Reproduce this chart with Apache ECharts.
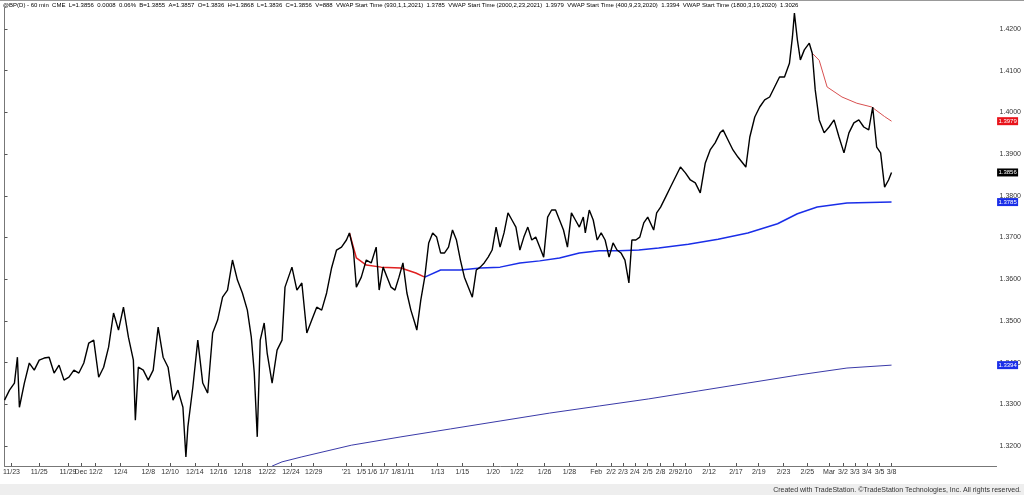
<!DOCTYPE html>
<html><head><meta charset="utf-8">
<script src="https://cdn.jsdelivr.net/npm/echarts@6/dist/echarts.min.js"></script>
<style>html,body{margin:0;padding:0;background:#fff}#c{width:1024px;height:495px}</style>
</head><body><div id="c"></div>
<script>
// slot = hourly session position along the time axis
var priceSlots = [0,5,10,13,15,20,25,30,35,40,45,50,55,60,65,70,75,80,85,90,95,100,105,110,115,120,125,130,132,135,140,145,150,155,160,165,170,175,180,183,185,190,195,200,205,210,215,220,225,230,235,240,245,249,252,255,258,262,265,270,275,280,283,290,295,300,305,310,315,320,325,330,335,340,345,348,352,355,360,365,370,375,378,382,386,390,394,398,402,406,410,414,416,420,424,428,432,436,440,444,448,452,456,460,464,468,472,476,480,484,488,492,496,500,504,508,512,516,520,524,528,532,536,540,544,548,552,556,560,564,568,572,576,580,584,586,590,594,598,602,606,610,614,618,622,626,630,633,637,641,645,649,655,658,662,667,672,677,682,687,692,697,702,707,712,717,722,725,730,735,740,745,748,752,757,762,767,772,777,782,787,792,795,797,800,803,807,812,815,818,822,827,832,837,842,847,852,857,862,867,872,876,880,884,888,892,895];
var priceVals = [1.3310,1.3334,1.3351,1.3413,1.3293,1.3351,1.3399,1.3382,1.3406,1.3411,1.3413,1.3375,1.3394,1.3358,1.3365,1.3382,1.3375,1.3399,1.3447,1.3454,1.3365,1.3389,1.3437,1.3519,1.3478,1.3533,1.3461,1.3406,1.3262,1.3389,1.3382,1.3358,1.3382,1.3485,1.3413,1.3389,1.3310,1.3334,1.3293,1.3174,1.3246,1.3341,1.3454,1.3351,1.3327,1.3471,1.3502,1.3557,1.3574,1.3646,1.3598,1.3567,1.3526,1.3461,1.3375,1.3222,1.3454,1.3495,1.3423,1.3351,1.3430,1.3454,1.3581,1.3629,1.3574,1.3591,1.3471,1.3502,1.3533,1.3526,1.3567,1.3627,1.3670,1.3677,1.3694,1.3711,1.3670,1.3581,1.3605,1.3646,1.3639,1.3677,1.3574,1.3629,1.3605,1.3581,1.3574,1.3605,1.3639,1.3567,1.3526,1.3495,1.3478,1.3550,1.3605,1.3687,1.3711,1.3701,1.3663,1.3663,1.3677,1.3718,1.3694,1.3646,1.3605,1.3581,1.3557,1.3622,1.3629,1.3639,1.3653,1.3670,1.3725,1.3677,1.3711,1.3759,1.3742,1.3725,1.3670,1.3701,1.3725,1.3694,1.3701,1.3677,1.3653,1.3749,1.3766,1.3766,1.3742,1.3718,1.3677,1.3759,1.3742,1.3725,1.3749,1.3711,1.3766,1.3742,1.3694,1.3711,1.3694,1.3653,1.3687,1.3670,1.3663,1.3646,1.3591,1.3694,1.3694,1.3701,1.3735,1.3749,1.3718,1.3759,1.3773,1.3797,1.3821,1.3845,1.3869,1.3855,1.3838,1.3831,1.3807,1.3878,1.3910,1.3927,1.3951,1.3958,1.3934,1.3910,1.3893,1.3878,1.3869,1.3941,1.3989,1.4013,1.4030,1.4037,1.4061,1.4085,1.4085,1.4118,1.4181,1.4238,1.4174,1.4126,1.4150,1.4166,1.4142,1.4054,1.3982,1.3951,1.3965,1.3982,1.3941,1.3903,1.3951,1.3975,1.3982,1.3965,1.3958,1.4013,1.3917,1.3903,1.3821,1.3838,1.3856];

var vwapJanSlots = [348,355,365,380,400,415,424];
var vwapJanVals = [1.3711,1.3651,1.3634,1.3629,1.3627,1.3615,1.3605];
var vwapMidSlots = [424,440,460,480,500,520,540,560,580,600,620,640,660,690,720,750,780,800,820,850,895];
var vwapMidVals = [1.3605,1.3622,1.3622,1.3627,1.3629,1.3639,1.3644,1.3651,1.3663,1.3668,1.3668,1.3670,1.3675,1.3684,1.3696,1.3711,1.3733,1.3757,1.3773,1.3783,1.3785];
var vwapFebSlots = [815,822,830,845,860,875,888,895];
var vwapFebVals = [1.4142,1.4125,1.4061,1.4037,1.4022,1.4013,1.3990,1.3979];
var vwapSepSlots = [270,280,300,350,400,450,500,550,600,650,700,750,800,850,895];
var vwapSepVals = [1.3152,1.3162,1.3174,1.3202,1.3222,1.3241,1.3260,1.3279,1.3296,1.3313,1.3332,1.3351,1.3370,1.3387,1.3394];

var dateSlots = [7,35,64,77,92,117,145,167,192,216,240,265,289,312,345,360,371,383,395,407,437,462,493,517,545,570,597,612,624,636,649,662,675,687,711,738,761,786,810,832,846,858,870,883,895];
var dateLabels = ['11/23','11/25','11/29','Dec','12/2','12/4','12/8','12/10','12/14','12/16','12/18','12/22','12/24','12/29',"'21",'1/5','1/6','1/7','1/8','1/11','1/13','1/15','1/20','1/22','1/26','1/28','Feb','2/2','2/3','2/4','2/5','2/8','2/9','2/10','2/12','2/17','2/19','2/23','2/25','Mar','3/2','3/3','3/4','3/5','3/8'];
var priceTicks = [1.32,1.33,1.34,1.35,1.36,1.37,1.38,1.39,1.40,1.41,1.42];

function pairs(xs, ys) { return xs.map(function (x, i) { return [x, ys[i]]; }); }

function tag(val, bg) {
  return {
    coord: [1001, val], symbol: 'rect', symbolSize: [21, 8], symbolOffset: [11, 0],
    itemStyle: { color: bg },
    label: { show: true, position: 'inside', formatter: val.toFixed(4), color: '#fff', fontSize: 6, fontFamily: 'Arial' }
  };
}

function vwap(name, xs, ys, color, width) {
  return {
    name: name, type: 'line', data: pairs(xs, ys), symbol: 'none', silent: true,
    lineStyle: { color: color, width: width }, z: 3
  };
}

var chart = echarts.init(document.getElementById('c'), null, { renderer: 'canvas' });
var dateMap = {};
dateSlots.forEach(function (s, i) { dateMap[s] = dateLabels[i]; });

var priceSeries = {
  name: 'BP', type: 'line', data: pairs(priceSlots, priceVals), symbol: 'none', z: 4,
  lineStyle: { color: '#000', width: 1.4 },
  markPoint: {
    silent: true,
    data: [
      tag(vwapFebVals[vwapFebVals.length - 1], '#e8141b'),
      tag(priceVals[priceVals.length - 1], '#000'),
      tag(vwapMidVals[vwapMidVals.length - 1], '#1a2ee8'),
      tag(vwapSepVals[vwapSepVals.length - 1], '#1a2ee8')
    ]
  }
};

chart.setOption({
  animation: false,
  grid: { left: 0, right: 23, top: 8, bottom: 29 },
  xAxis: {
    type: 'value', min: 0, max: 1001,
    axisLine: { lineStyle: { color: '#777' } },
    axisTick: { customValues: dateSlots, length: 3, inside: true, lineStyle: { color: '#555' } },
    axisLabel: { customValues: dateSlots, formatter: function (v) { return dateMap[v] || ''; }, color: '#333', fontSize: 7, fontFamily: 'Arial', margin: 3 },
    splitLine: { show: false }
  },
  yAxis: {
    type: 'value', position: 'right', min: 1.31521, max: 1.42504,
    axisLine: { show: true, lineStyle: { color: '#777' } },
    axisTick: { customValues: priceTicks, length: 3, lineStyle: { color: '#555' } },
    axisLabel: { customValues: priceTicks, formatter: function (v) { return v.toFixed(4); }, color: '#333', fontSize: 7, fontFamily: 'Arial', margin: 3 },
    splitLine: { show: false }
  },
  graphic: [
    { type: 'rect', shape: { x: 0, y: 0, width: 1024, height: 1 }, style: { fill: '#999' } },
    { type: 'rect', shape: { x: 0, y: 484, width: 1024, height: 11 }, style: { fill: '#eeeeee' } },
    { type: 'text', left: 3, top: 2, style: {
      text: '{k|@BP(D) - 60 min  CME}  {b|L=1.3856  0.0008  0.06%}  {g|B=1.3855  A=1.3857}  {b|O=1.3836}  {g|H=1.3868  L=1.3836}  {b|C=1.3856}  {g|V=888  VWAP Start Time (930,1,1,2021)}  {b|1.3785}  {g|VWAP Start Time (2000,2,23,2021)}  {r|1.3979}  {g|VWAP Start Time (400,9,23,2020)}  {b|1.3394}  {g|VWAP Start Time (1800,3,19,2020)}  {b|1.3026}',
      fontSize: 6, fontFamily: 'Arial',
      rich: { k: { color: '#333', fontSize: 6 }, b: { color: '#2233cc', fontSize: 6 }, g: { color: '#aaa', fontSize: 6 }, r: { color: '#e8141b', fontSize: 6 } }
    } },
    { type: 'text', right: 3, top: 487, style: { text: 'Created with TradeStation. ©TradeStation Technologies, Inc. All rights reserved.', fontSize: 7, fontFamily: 'Arial', fill: '#333' } }
  ],
  series: [
    vwap('VWAP Sep', vwapSepSlots, vwapSepVals, '#3a3aa8', 1),
    vwap('VWAP Jan red', vwapJanSlots, vwapJanVals, '#e02020', 1.5),
    vwap('VWAP Jan', vwapMidSlots, vwapMidVals, '#1a2ee8', 1.5),
    vwap('VWAP Feb', vwapFebSlots, vwapFebVals, '#d85050', 1),
    priceSeries
  ]
});
</script></body></html>
